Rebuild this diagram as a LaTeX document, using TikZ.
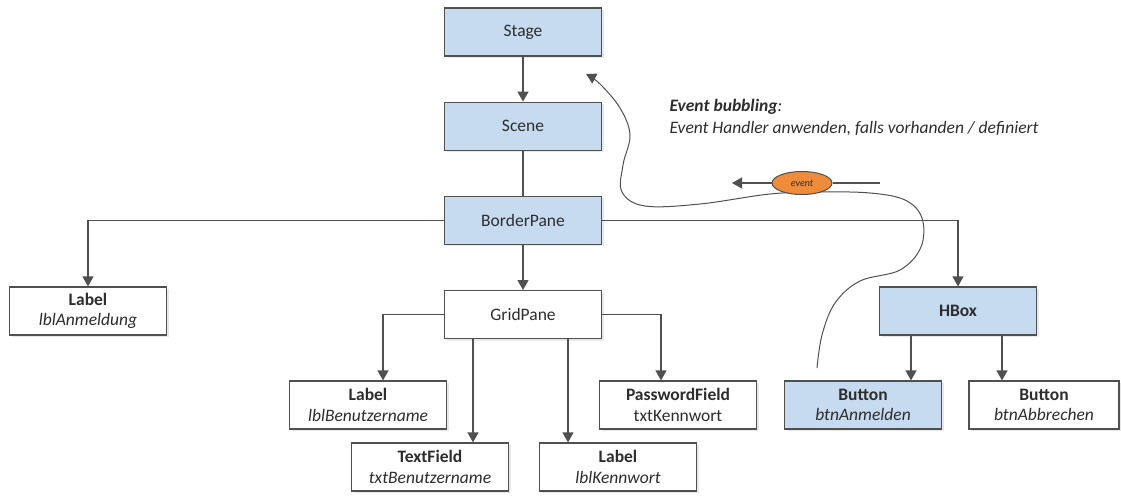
\documentclass[tikz,border=0pt]{standalone}
\usepackage{fontspec}
\setmainfont{Carlito}
\usepackage{tikz}
\usetikzlibrary{arrows.meta,positioning,shapes.geometric,shadows}
\definecolor{paneblue}{RGB}{198,219,240}
\definecolor{linegray}{RGB}{80,80,80}
\definecolor{textgray}{RGB}{45,45,45}
\definecolor{evorange}{RGB}{238,140,60}

\begin{document}
\begin{tikzpicture}[x=1pt,y=-1pt,node distance=45pt,>={Triangle[length=10pt,width=11pt]},
  every node/.style={font=\fontsize{17.5}{20.5}\selectfont,text=textgray},
  box/.style={draw=linegray,line width=1.2pt,minimum width=157pt,minimum height=48pt,align=center,inner sep=1pt,
    drop shadow={opacity=0.18,shadow xshift=2pt,shadow yshift=-2pt}},
  bluebox/.style={box,fill=paneblue},
  whitebox/.style={box,fill=white},
  conn/.style={draw=linegray,line width=1.2pt}]
\useasboundingbox (0,0) rectangle (1121,496);
% scene graph
\node[bluebox] (stage) at (523,32) {Stage};
\node[bluebox,below=of stage] (scene) {Scene};
\node[bluebox,below=of scene] (border) {BorderPane};
\node[whitebox,below=of border] (grid) {GridPane};
\node[whitebox] (anmeld) at (88,311) {\textbf{Label}\\\textit{lblAnmeldung}};
\node[bluebox] (hbox) at (958,311) {\textbf{HBox}};
\node[whitebox] (benutzer) at (368,405) {\textbf{Label}\\\textit{lblBenutzername}};
\node[whitebox] (passw) at (678,405) {\textbf{PasswordField}\\txtKennwort};
\node[whitebox] (textf) at (430,467) {\textbf{TextField}\\\textit{txtBenutzername}};
\node[whitebox] (kennw) at (618,467) {\textbf{Label}\\\textit{lblKennwort}};
\node[bluebox] (btnan) at (863,405) {\textbf{Button}\\\textit{btnAnmelden}};
\node[whitebox,minimum width=150pt] (btnab) at (1044,405) {\textbf{Button}\\\textit{btnAbbrechen}};

\draw[conn,->] (stage) -- (scene);
\draw[conn] (scene) -- (border);
\draw[conn,->] (border) -- (grid);
\draw[conn,->] (border.west) -| (anmeld.north);
\draw[conn,->] (border.east) -| (hbox.north);
\draw[conn,->] (grid.west) -| ([xshift=15pt]benutzer.north);
\draw[conn,->] ([xshift=-50pt]grid.south) -- ([xshift=-50pt]grid.south |- textf.north);
\draw[conn,->] ([xshift=45pt]grid.south) -- ([xshift=45pt]grid.south |- kennw.north);
\draw[conn,->] (grid.east) -| ([xshift=-17pt]passw.north);
\draw[conn,->] ([xshift=-47pt]hbox.south) -- ([xshift=-47pt]hbox.south |- btnan.north);
\draw[conn,->] ([xshift=44pt]hbox.south) -- ([xshift=44pt]hbox.south |- btnab.north);

% event bubbling
\node[anchor=base west,font=\itshape\bfseries\fontsize{17.5}{20}\selectfont] (bubhead) at (666,111) {Event bubbling\textmd{:}};
\node[anchor=base west,font=\itshape\fontsize{17.5}{20}\selectfont] (bubtext) at (666,133) {Event Handler anwenden, falls vorhanden / definiert};
\draw[draw=linegray,line width=1pt,->] plot[smooth,tension=0.6] coordinates {
  (817,368) (822,335) (835,303) (860,281) (900,270) (921,247) (922,218) (905,200)
  (870,193) (820,192) (770,194) (700,204) (645,206) (622,192) (623,165) (630,135)
  (620,108) (600,84) (586,74)};
\coordinate (evin) at (880,183);
\coordinate (evout) at (732,183);
\node[ellipse,draw=linegray,line width=1pt,fill=evorange,minimum width=60pt,minimum height=23pt,inner sep=0pt,
  font=\itshape\fontsize{10}{11}\selectfont] (event) at (802,183) {event};
\draw[conn] (evin) -- (event.east);
\draw[conn,->] (event.west) -- (evout);
\end{tikzpicture}
\end{document}
